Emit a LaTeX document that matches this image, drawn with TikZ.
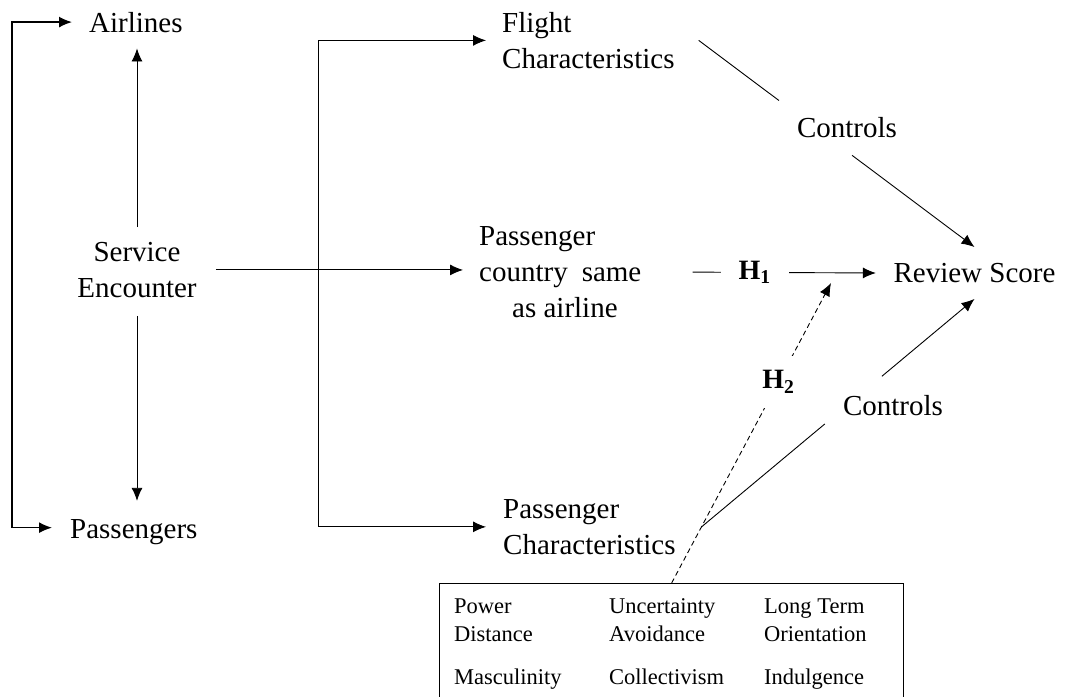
\documentclass[tikz,border=0pt]{standalone}
\usepackage{fontspec}
\setmainfont{Liberation Serif}
\usetikzlibrary{arrows.meta,calc}
\tikzset{
  lbl/.style={inner sep=0pt, font={\fontsize{29}{36}\selectfont}},
  cell/.style={inner sep=0pt, align=left, anchor=north west, font={\fontsize{22.5}{28}\selectfont}},
  con/.style={line width=0.9pt},
  tipA/.tip={Latex[length=13pt,width=11pt]},
  arr/.style={con, -tipA},
  dashline/.style={con, dash pattern=on 5pt off 3.5pt},
  hlab/.style={fill=white, font={\fontsize{28}{34}\selectfont\bfseries}},
}
\begin{document}
\begin{tikzpicture}[x=1pt,y=-1pt]
\useasboundingbox (0,0) rectangle (1065,696);
\clip (0,0) rectangle (1065,696);
\coordinate (lb) at (12,0);
\coordinate (rb) at (318,0);
% text nodes
\node[lbl, anchor=base west] (air) at (89,32) {Airlines};
\node[lbl, anchor=base west] (pas) at (70,538) {Passengers};
\node[lbl, align=center, anchor=north] (se) at (137,242) {Service\\Encounter};
\node[lbl, align=left, anchor=north west] (fc) at (502,12) {Flight\\Characteristics};
\node[lbl, align=left, anchor=north west] (pc) at (479,226) {Passenger\\country\hspace{14pt}same\\\hspace*{33pt}as airline};
\node[lbl, align=left, anchor=north west] (pch) at (503,499) {Passenger\\Characteristics};
\node[lbl, inner xsep=17.5pt, inner ysep=16pt] (rs) at (974.5,273) {Review Score};
\node[lbl, anchor=base] (ct1) at (847,137) {Controls};
\node[lbl, anchor=base] (ct2) at (893,415) {Controls};
% box of dimensions
\node[draw, line width=1.3pt, minimum width=464pt, minimum height=140pt, anchor=north west, inner sep=0pt] (box) at (439,583) {};
\node[cell] (pd) at (454,599) {Power\\Distance};
\node[cell] (ua) at (609,598.3) {Uncertainty\\Avoidance};
\node[cell] (lto) at (764,599) {Long Term\\Orientation};
\node[cell, anchor=base west] (mas) at (454,684) {Masculinity};
\node[cell, anchor=base west] (col) at (609,684) {Collectivism};
\node[cell, anchor=base west] (ind) at (764,684) {Indulgence};
% left bracket
\draw[con, line width=1.5pt, tipA-tipA, shorten <=17pt, shorten >=18pt]
  (air.west) -- (air.west -| lb) -- ([yshift=4pt]pas.west -| lb) -- ([yshift=4pt]pas.west);
% service encounter arrows
\draw[arr, shorten <=15pt, shorten >=16pt] (se.north) -- (se.north |- air.south);
\draw[arr, shorten <=18pt, shorten >=18pt] (se.south) -- (se.south |- pas.north);
\draw[arr, shorten <=19pt, shorten >=16pt] (se.east) -- (se.east -| pc.west);
% right bracket
\draw[con, tipA-tipA, shorten <=16pt, shorten >=17pt]
  (fc.west) -- (fc.west -| rb) -- (pch.west -| rb) -- (pch.west);
% H1
\draw[arr, shorten <=51pt] (pc.east) -- node[pos=0.483, hlab, inner xsep=18pt, inner ysep=2pt] (h1) {H\textsubscript{1}} (rs.west);
% H2
\coordinate (h2t) at (831,283);
\draw[dashline, -tipA] (box.north) -- node[pos=0.67, hlab, inner xsep=3pt, inner ysep=15pt] (h2) {H\textsubscript{2}} (h2t);
% controls from passenger characteristics
\coordinate (j) at ($(box.north)!0.1867!(h2t)$);
\draw[con] (j) -- ($(j)!0.452!(rs.south)$);
\draw[arr] ($(j)!0.661!(rs.south)$) -- (rs.south);
% controls from flight characteristics
\coordinate (a1) at ($(fc.east)+(24,0)$);
\draw[con] (a1) -- ($(a1)!0.291!(rs.north)$);
\draw[arr] ($(a1)!0.556!(rs.north)$) -- (rs.north);
\end{tikzpicture}
\end{document}
